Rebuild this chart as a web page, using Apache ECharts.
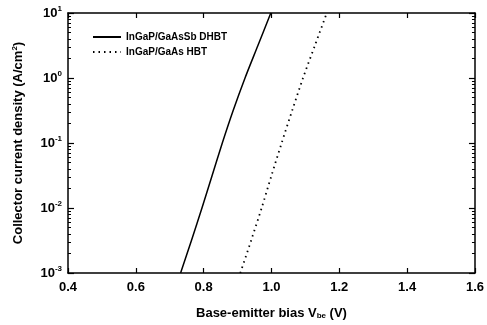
<!DOCTYPE html>
<html><head><meta charset="utf-8">
<script src="https://cdn.jsdelivr.net/npm/echarts@6/dist/echarts.min.js"></script>
<style>html,body{margin:0;padding:0;background:#fff}#c{width:487px;height:325px}</style>
</head><body><div id="c"></div>
<script>
// Base-emitter bias (V) and collector current density (A/cm^2)
const dhbtV = [0.732, 0.764, 0.795, 0.825, 0.855, 0.887, 0.922, 0.960, 0.998];
const dhbtJ = [0.001, 0.00316, 0.01, 0.0316, 0.1, 0.316, 1, 3.16, 10];
const hbtV  = [0.908, 0.940, 0.971, 1.000, 1.030, 1.061, 1.093, 1.128, 1.163];
const hbtJ  = [0.001, 0.00316, 0.01, 0.0316, 0.1, 0.316, 1, 3.16, 10];
const seriesNames = ['InGaP/GaAsSb DHBT', 'InGaP/GaAs HBT'];
const xTicks = [0.4, 0.6, 0.8, 1.0, 1.2, 1.4, 1.6];
const yMajor = [0.001, 0.01, 0.1, 1, 10];
const yMinorMult = [2, 3, 4, 5, 6, 7, 8, 9];

const yMinor = [];
yMajor.slice(0, -1).forEach(d => yMinorMult.forEach(m => yMinor.push(+(d * m).toPrecision(3))));

const F = '"Liberation Sans", Arial, sans-serif';
const zip = (a, b) => a.map((v, i) => [v, b[i]]);
const chart = echarts.init(document.getElementById('c'), null, {renderer: 'canvas'});
const axisLine = {show: true, lineStyle: {color: '#000', width: 1.5}};
const tickStyle = {color: '#000', width: 1.2};
const yBase = {type: 'log', logBase: 10, min: 0.001, max: 10, splitLine: {show: false}};
const xCommon = {
  type: 'value', min: 0.4, max: 1.6, interval: 0.2,
  axisLine: axisLine,
  axisTick: {show: true, inside: true, length: 5, lineStyle: tickStyle},
  splitLine: {show: false}
};
const minorAxis = pos => Object.assign({}, yBase, {
  position: pos, axisLine: {show: false},
  axisTick: {show: true, inside: true, length: 3, customValues: yMinor, lineStyle: {color: '#000', width: 1}},
  axisLabel: {show: false}
});
chart.setOption({
  animation: false,
  backgroundColor: '#fff',
  grid: {left: 68, right: 11, top: 13, bottom: 52},
  legend: {
    orient: 'vertical', left: 87, top: 27, itemGap: 5,
    itemWidth: 28, itemHeight: 10,
    itemStyle: {opacity: 0},
    textStyle: {fontFamily: F, fontSize: 10, fontWeight: 'bold', color: '#000'},
    data: seriesNames
  },
  xAxis: [
    Object.assign({}, xCommon, {
      position: 'bottom',
      name: 'Base-emitter bias V{sub|be} (V)',
      nameLocation: 'middle', nameGap: 33,
      nameTextStyle: {fontFamily: F, fontSize: 13, fontWeight: 'bold', color: '#000',
        rich: {sub: {fontFamily: F, fontSize: 8, fontWeight: 'bold', color: '#000', verticalAlign: 'bottom', padding: [6, 0, 0, 0]}}},
      axisLabel: {fontFamily: F, fontSize: 13, fontWeight: 'bold', color: '#000', margin: 8,
        formatter: v => xTicks.indexOf(+v.toFixed(1)) >= 0 ? v.toFixed(1) : ''}
    }),
    Object.assign({}, xCommon, {position: 'top', axisLabel: {show: false}})
  ],
  yAxis: [
    Object.assign({}, yBase, {
      position: 'left',
      axisLine: axisLine,
      axisTick: {show: true, inside: true, length: 6, lineStyle: tickStyle},
      name: 'Collector current density (A/cm{sup|2})',
      nameLocation: 'middle', nameGap: 42,
      nameTextStyle: {fontFamily: F, fontSize: 13, fontWeight: 'bold', color: '#000',
        rich: {sup: {fontFamily: F, fontSize: 8, fontWeight: 'bold', color: '#000', verticalAlign: 'top', padding: [0, 0, 7, 0]}}},
      axisLabel: {fontFamily: F, fontSize: 13, fontWeight: 'bold', color: '#000', margin: 6,
        formatter: v => '10{sup|' + Math.round(Math.log10(v)) + '}',
        rich: {sup: {fontFamily: F, fontSize: 8, fontWeight: 'bold', color: '#000', padding: [0, 0, 8, 0]}}}
    }),
    Object.assign({}, yBase, {
      position: 'right', axisLine: axisLine,
      axisTick: {show: true, inside: true, length: 6, customValues: yMajor, lineStyle: tickStyle},
      axisLabel: {show: false}
    }),
    minorAxis('left'),
    minorAxis('right')
  ],
  series: [
    {name: seriesNames[0], type: 'line', data: zip(dhbtV, dhbtJ), smooth: 0.3, showSymbol: false, symbol: 'none',
     lineStyle: {color: '#000', width: 1.5, type: 'solid'}, itemStyle: {color: '#000'}},
    {name: seriesNames[1], type: 'line', data: zip(hbtV, hbtJ), smooth: 0.3, showSymbol: false, symbol: 'none',
     lineStyle: {color: '#000', width: 1.8, type: [1.5, 4]}, itemStyle: {color: '#000'}}
  ]
});
</script></body></html>
